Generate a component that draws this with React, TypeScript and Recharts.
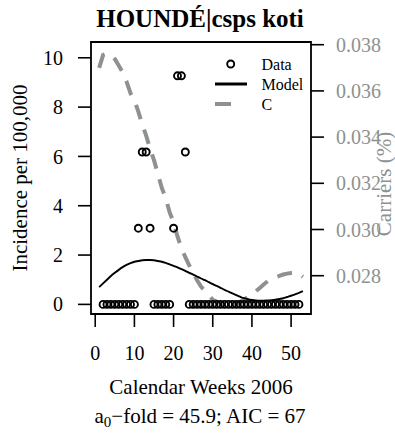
import React from "react";
import {
  ComposedChart,
  Line,
  Scatter,
  XAxis,
  YAxis,
  ReferenceArea,
} from "recharts";

// weeks 1..53 for the fitted curves
const weeks = [
  1, 2, 3, 4, 5, 6, 7, 8, 9, 10, 11, 12, 13, 14, 15, 16, 17, 18, 19, 20,
  21, 22, 23, 24, 25, 26, 27, 28, 29, 30, 31, 32, 33, 34, 35, 36, 37, 38, 39,
  40, 41, 42, 43, 44, 45, 46, 47, 48, 49, 50, 51, 52, 53,
];

const modelValues = [
  0.7, 0.85, 1.0, 1.15, 1.28, 1.4, 1.51, 1.6, 1.67, 1.73, 1.76, 1.79, 1.8,
  1.8, 1.79, 1.76, 1.73, 1.68, 1.62, 1.56, 1.5, 1.43, 1.36, 1.28, 1.21, 1.13,
  1.05, 0.98, 0.9, 0.82, 0.75, 0.67, 0.59, 0.52, 0.45, 0.38, 0.31, 0.25, 0.21,
  0.18, 0.16, 0.15, 0.15, 0.16, 0.17, 0.19, 0.22, 0.25, 0.3, 0.35, 0.41, 0.47,
  0.54,
];

const carrierValues = [
  0.037, 0.03755, 0.03762, 0.03755, 0.03738, 0.0371, 0.0368, 0.0364, 0.0359,
  0.0356, 0.0351, 0.03456, 0.03406, 0.0335, 0.033, 0.0324, 0.0318, 0.03135,
  0.03074, 0.03032, 0.0297, 0.0292, 0.0288, 0.02845, 0.02811, 0.0278, 0.02753,
  0.02734, 0.02715, 0.02696, 0.02688, 0.02681, 0.02674, 0.02669, 0.02672,
  0.02678, 0.02687, 0.02696, 0.02708, 0.0272, 0.02733, 0.02747, 0.02762,
  0.02776, 0.02786, 0.02793, 0.02799, 0.02805, 0.02809, 0.02812, 0.02814,
  0.02808, 0.02795,
];

// observed incidence, weeks 2..52
const obsWeeks = weeks.slice(1, 52);
const obsIncidence = [
  0, 0, 0, 0, 0, 0, 0, 0, 0, 3.09, 6.18, 6.18, 3.09, 0, 0, 0, 0, 0, 3.09,
  9.27, 9.27, 6.18, 0, 0, 0, 0, 0, 0, 0, 0, 0, 0, 0, 0, 0, 0, 0, 0, 0, 0, 0,
  0, 0, 0, 0, 0, 0, 0, 0, 0, 0,
];

const xTicks = [0, 10, 20, 30, 40, 50];
const leftTicks = [0, 2, 4, 6, 8, 10];
const rightTicks = [0.028, 0.03, 0.032, 0.034, 0.036, 0.038];

const legendLabels = ["Data", "Model", "C"];

const xDomain: [number, number] = [-1.08, 55.08];
const leftDomain: [number, number] = [-0.39, 10.64];
const rightDomain: [number, number] = [0.026342, 0.038117];

const curveData = weeks.map((w, i) => ({
  week: w,
  model: modelValues[i],
  carriers: carrierValues[i],
}));
const obsData = obsWeeks.map((w, i) => ({ week: w, incidence: obsIncidence[i] }));

const FONT = "'Liberation Serif', 'Times New Roman', Times, serif";
const GREY = "#8d928f";
const DASH = "15 11";

const OpenCircle = (props: any) => (
  <circle cx={props.cx} cy={props.cy} r={3.5} fill="none" stroke="#000" strokeWidth={1.9} />
);

const tickStyle = (fill: string) => ({ fontSize: 20, fill, style: { fontFamily: FONT } });

export default function App() {
  return (
    <div
      style={{
        position: "absolute",
        left: 0,
        top: 0,
        width: 395,
        height: 433,
        background: "#fff",
        fontFamily: FONT,
      }}
    >
      <ComposedChart
        width={395}
        height={433}
        margin={{ top: 42, right: 0, bottom: 0, left: 0 }}
        style={{ fontFamily: FONT }}
      >
        <XAxis
          dataKey="week"
          type="number"
          domain={xDomain}
          allowDataOverflow
          ticks={xTicks}
          height={119}
          axisLine={false}
          tickSize={13}
          tickMargin={19}
          tickLine={{ stroke: "#000", strokeWidth: 1.6 }}
          tick={tickStyle("#000")}
        />
        <YAxis
          yAxisId="left"
          orientation="left"
          type="number"
          domain={leftDomain}
          allowDataOverflow
          ticks={leftTicks}
          width={91}
          axisLine={false}
          tickSize={13}
          tickMargin={15}
          tickLine={{ stroke: "#000", strokeWidth: 1.6 }}
          tick={tickStyle("#000")}
        />
        <YAxis
          yAxisId="right"
          orientation="right"
          type="number"
          domain={rightDomain}
          allowDataOverflow
          ticks={rightTicks}
          tickFormatter={(v: number) => v.toFixed(3)}
          width={84}
          axisLine={false}
          tickSize={13}
          tickMargin={12}
          tickLine={{ stroke: "#000", strokeWidth: 1.6 }}
          tick={tickStyle(GREY)}
        />
        <ReferenceArea
          yAxisId="left"
          x1={xDomain[0]}
          x2={xDomain[1]}
          y1={leftDomain[0]}
          y2={leftDomain[1]}
          fill="none"
          fillOpacity={0}
          stroke="#000"
          strokeWidth={1.8}
          ifOverflow="visible"
        />
        <Line
          yAxisId="right"
          data={curveData}
          dataKey="carriers"
          type="linear"
          stroke={GREY}
          strokeWidth={4}
          strokeDasharray={DASH}
          dot={false}
          isAnimationActive={false}
        />
        <Line
          yAxisId="left"
          data={curveData}
          dataKey="model"
          type="monotone"
          stroke="#000"
          strokeWidth={1.9}
          dot={false}
          isAnimationActive={false}
        />
        <Scatter
          yAxisId="left"
          data={obsData}
          dataKey="incidence"
          shape={OpenCircle}
          isAnimationActive={false}
        />
      </ComposedChart>

      <svg
        width={395}
        height={433}
        style={{ position: "absolute", left: 0, top: 0, pointerEvents: "none", fontFamily: FONT }}
      >
        <text x={200} y={27} textAnchor="middle" fontSize={25} fontWeight="bold">
          HOUNDÉ|csps koti
        </text>
        <text transform="translate(27,178) rotate(-90)" textAnchor="middle" fontSize={21}>
          Incidence per 100,000
        </text>
        <text transform="translate(391,184) rotate(-90)" textAnchor="middle" fontSize={21} fill={GREY}>
          Carriers (%)
        </text>
        <text x={201} y={394} textAnchor="middle" fontSize={21}>
          Calendar Weeks 2006
        </text>
        <text x={200} y={423} textAnchor="middle" fontSize={21}>
          a<tspan fontSize={15} dy={4}>0</tspan>
          <tspan dy={-4}>−fold = 45.9; AIC = 67</tspan>
        </text>

        {/* legend */}
        <circle cx={230.7} cy={64} r={3.5} fill="none" stroke="#000" strokeWidth={1.9} />
        <line x1={215} y1={84} x2={247} y2={84} stroke="#000" strokeWidth={3} />
        <line x1={215} y1={104} x2={231} y2={104} stroke={GREY} strokeWidth={4} />
        {legendLabels.map((t, i) => (
          <text key={t} x={261.5} y={70 + i * 20} fontSize={16}>
            {t}
          </text>
        ))}
      </svg>
    </div>
  );
}
